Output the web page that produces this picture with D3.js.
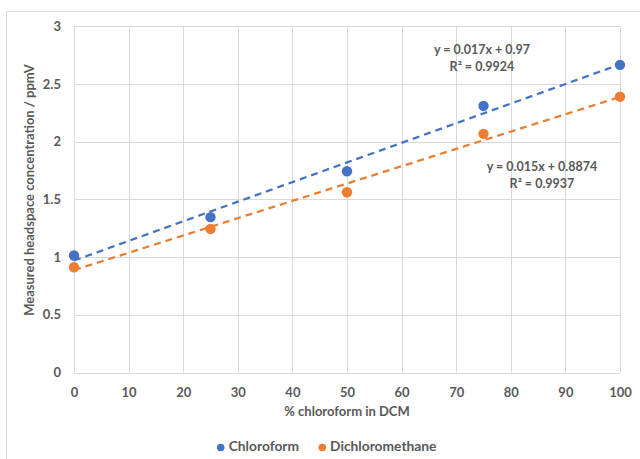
<!DOCTYPE html>
<html>
<head>
<meta charset="utf-8">
<script src="https://cdn.jsdelivr.net/npm/d3@7"></script>
<style>
  html, body { margin: 0; padding: 0; background: #fff; }
  svg { display: block; }
  text { font-family: Lato, "Open Sans", sans-serif; fill: #595959; }
</style>
</head>
<body>
<svg id="chart" width="640" height="459"></svg>
<script>
// Concentration (ppmV) against % chloroform in DCM
const xPercent = [0, 25, 50, 75, 100];
const chloroform = [1.014, 1.346, 1.744, 2.31, 2.666];
const dichloromethane = [0.912, 1.244, 1.562, 2.068, 2.39];

// Linear trendlines as labelled
const chloroformFit = { slope: 0.017, intercept: 0.97, r2: "0.9924", label: "y = 0.017x + 0.97" };
const dcmFit = { slope: 0.015, intercept: 0.8874, r2: "0.9937", label: "y = 0.015x + 0.8874" };

const xTicks = [0, 10, 20, 30, 40, 50, 60, 70, 80, 90, 100];
const yTicks = [0, 0.5, 1, 1.5, 2, 2.5, 3];
const yTickLabels = ["0", "0.5", "1", "1.5", "2", "2.5", "3"];

const seriesNames = ["Chloroform", "Dichloromethane"];
const colors = ["#4472C4", "#ED7D31"];

const svg = d3.select("#chart");

// chart frame (top and left edges visible)
svg.append("line").attr("x1", 6.5).attr("x2", 640).attr("y1", 11.5).attr("y2", 11.5)
  .attr("stroke", "#d9d9d9").attr("stroke-width", 1);
svg.append("line").attr("x1", 6.5).attr("x2", 6.5).attr("y1", 11.5).attr("y2", 459)
  .attr("stroke", "#d9d9d9").attr("stroke-width", 1);

const plot = { left: 74, right: 620, top: 26.3, bottom: 372.5 };
const x = d3.scaleLinear().domain([0, 100]).range([plot.left, plot.right]);
const y = d3.scaleLinear().domain([0, 3]).range([plot.bottom, plot.top]);

// gridlines
const grid = svg.append("g").attr("stroke", "#d9d9d9").attr("stroke-width", 1);
grid.selectAll("line.v").data(xTicks).join("line").attr("class", "v")
  .attr("x1", d => Math.round(x(d)) + 0.5).attr("x2", d => Math.round(x(d)) + 0.5)
  .attr("y1", plot.top).attr("y2", plot.bottom);
grid.selectAll("line.h").data(yTicks).join("line").attr("class", "h")
  .attr("x1", plot.left).attr("x2", plot.right)
  .attr("y1", d => Math.round(y(d)) + 0.5).attr("y2", d => Math.round(y(d)) + 0.5);

// axes (labels only, lines come from the grid)
const xAxis = svg.append("g").attr("transform", `translate(0,${plot.bottom})`)
  .call(d3.axisBottom(x).tickValues(xTicks).tickSize(0).tickPadding(20).tickFormat(d3.format("d")));
xAxis.select(".domain").remove();
xAxis.selectAll("text").attr("font-size", 13).attr("font-weight", 700).attr("fill", "#595959")
  .attr("font-family", "Lato, sans-serif").attr("dy", "0.32em").attr("y", 20);

const yAxis = svg.append("g").attr("transform", `translate(${plot.left},0)`)
  .call(d3.axisLeft(y).tickValues(yTicks).tickSize(0).tickPadding(13)
    .tickFormat((d, i) => yTickLabels[i]));
yAxis.select(".domain").remove();
yAxis.selectAll("text").attr("font-size", 13).attr("font-weight", 700).attr("fill", "#595959")
  .attr("font-family", "Lato, sans-serif");

// axis titles
svg.append("text").attr("x", (plot.left + plot.right) / 2).attr("y", 413)
  .attr("text-anchor", "middle").attr("dominant-baseline", "middle")
  .attr("font-size", 13).attr("font-weight", 700)
  .text("% chloroform in DCM");
svg.append("text")
  .attr("transform", `translate(31,190) rotate(-90)`)
  .attr("text-anchor", "middle").attr("dominant-baseline", "middle")
  .attr("font-size", 13).attr("font-weight", 700)
  .text("Measured headspace concentration / ppmV");

// trendlines
const fits = [chloroformFit, dcmFit];
svg.append("g").selectAll("line").data(fits).join("line")
  .attr("x1", x(0)).attr("x2", x(100))
  .attr("y1", d => y(d.intercept)).attr("y2", d => y(d.intercept + d.slope * 100))
  .attr("stroke", (d, i) => colors[i]).attr("stroke-width", 2.25)
  .attr("stroke-dasharray", "7,5");

// markers
const series = [chloroform, dichloromethane];
series.forEach((vals, si) => {
  svg.append("g").selectAll("circle").data(vals).join("circle")
    .attr("cx", (d, i) => x(xPercent[i])).attr("cy", d => y(d))
    .attr("r", 5.2).attr("fill", colors[si]);
});

// equation labels
const eqPos = [{ cx: 482, cy: 50.5 }, { cx: 542, cy: 167.5 }];
fits.forEach((f, i) => {
  const g = svg.append("g").attr("font-size", 12.5).attr("font-weight", 700)
    .attr("text-anchor", "middle");
  g.append("text").attr("x", eqPos[i].cx).attr("y", eqPos[i].cy)
    .attr("dominant-baseline", "middle").text(f.label);
  g.append("text").attr("x", eqPos[i].cx).attr("y", eqPos[i].cy + 17.5)
    .attr("dominant-baseline", "middle").text("R\u00B2 = " + f.r2);
});

// legend
const legendItems = [{ mx: 220.7, tx: 228.7 }, { mx: 322.3, tx: 330 }];
seriesNames.forEach((name, i) => {
  svg.append("circle").attr("cx", legendItems[i].mx).attr("cy", 447.5).attr("r", 3.8).attr("fill", colors[i]);
  svg.append("text").attr("x", legendItems[i].tx).attr("y", 447.5)
    .attr("dominant-baseline", "middle").attr("font-size", 13.8).attr("font-weight", 700)
    .text(name);
});
</script>
</body>
</html>
